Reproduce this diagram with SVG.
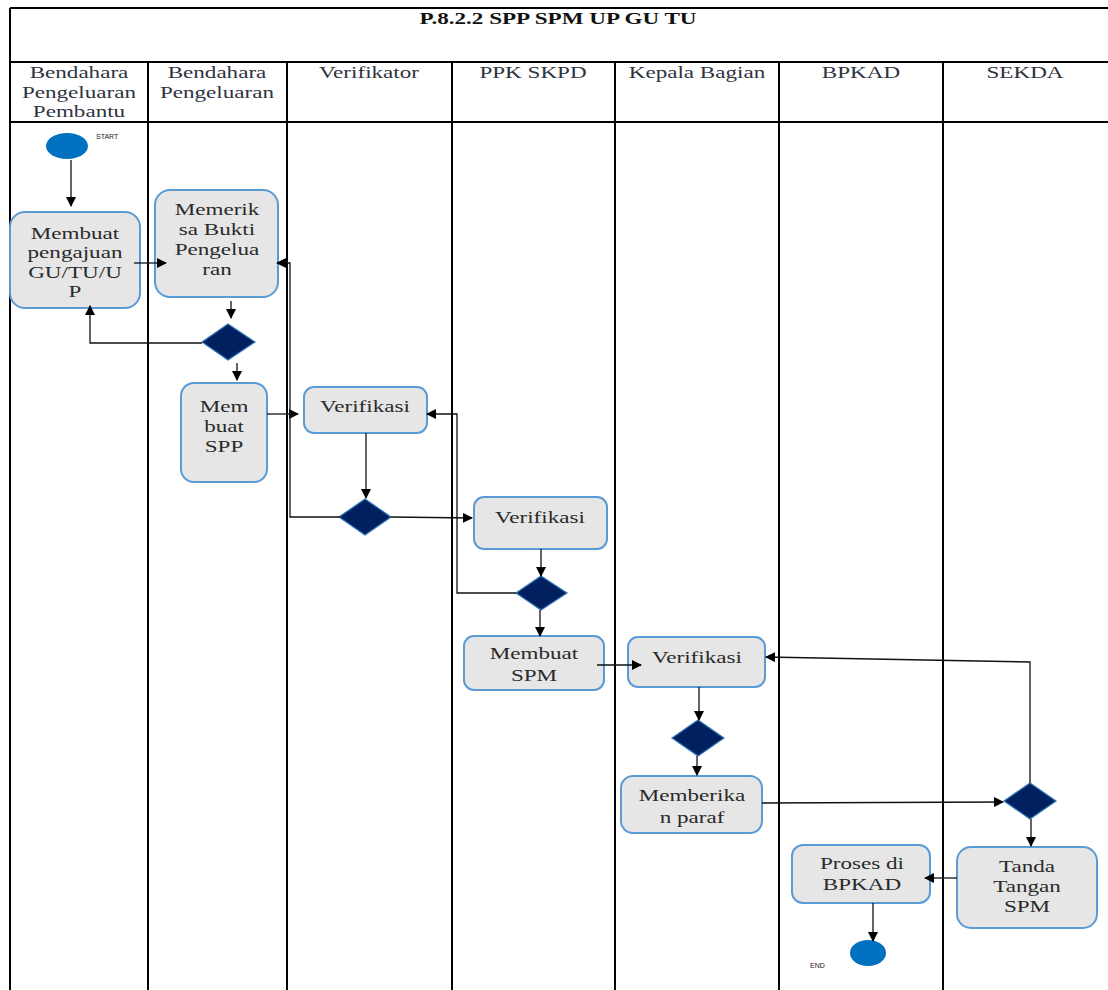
<svg xmlns="http://www.w3.org/2000/svg" width="1108" height="990" viewBox="0 0 1108 990">
<defs>
<marker id="arr" markerWidth="10" markerHeight="10" refX="9" refY="5" orient="auto" markerUnits="userSpaceOnUse">
<path d="M0,0 L10,5 L0,10 Z" fill="#000"/>
</marker>
<style>
.frame{stroke:#000;stroke-width:2;fill:none}
.title{font-family:"Liberation Serif",serif;font-size:16.5px;font-weight:bold;fill:#111;text-anchor:middle}
.lane{font-family:"Liberation Serif",serif;font-size:16.5px;fill:#2e3440;text-anchor:middle}
.box{fill:#e6e6e6;stroke:#5b9bd5;stroke-width:2}
.t{font-family:"Liberation Serif",serif;font-size:16.5px;fill:#2a2a2a;text-anchor:middle}
.dia{fill:#002060;stroke:#2f75b5;stroke-width:1.2}
.term{fill:#0070c0}
.small{font-family:"Liberation Sans",sans-serif;font-size:7px;fill:#222}
.c{stroke:#111;stroke-width:1.3;fill:none}
</style>
</defs>
<rect x="0" y="0" width="1108" height="990" fill="#fff"/>
<g id="frame">
<line class="frame" x1="10" y1="8" x2="1108" y2="8"/>
<line class="frame" x1="10" y1="8" x2="10" y2="990"/>
<line class="frame" x1="10" y1="62" x2="1108" y2="62"/>
<line class="frame" x1="10" y1="122" x2="1108" y2="122"/>
<line class="frame" x1="148" y1="62" x2="148" y2="990"/>
<line class="frame" x1="287" y1="62" x2="287" y2="990"/>
<line class="frame" x1="452" y1="62" x2="452" y2="990"/>
<line class="frame" x1="615" y1="62" x2="615" y2="990"/>
<line class="frame" x1="779" y1="62" x2="779" y2="990"/>
<line class="frame" x1="943" y1="62" x2="943" y2="990"/>
<text class="title" transform="translate(558,24) scale(1.4,1)">P.8.2.2 SPP SPM UP GU TU</text>
<text class="lane" transform="translate(79,78) scale(1.4,1)">Bendahara</text>
<text class="lane" transform="translate(79,98) scale(1.4,1)">Pengeluaran</text>
<text class="lane" transform="translate(79,117) scale(1.4,1)">Pembantu</text>
<text class="lane" transform="translate(217,78) scale(1.4,1)">Bendahara</text>
<text class="lane" transform="translate(217,98) scale(1.4,1)">Pengeluaran</text>
<text class="lane" transform="translate(369,78) scale(1.4,1)">Verifikator</text>
<text class="lane" transform="translate(533,78) scale(1.4,1)">PPK SKPD</text>
<text class="lane" transform="translate(697,78) scale(1.4,1)">Kepala Bagian</text>
<text class="lane" transform="translate(861,78) scale(1.4,1)">BPKAD</text>
<text class="lane" transform="translate(1025,78) scale(1.4,1)">SEKDA</text>
</g>
<g id="start">
<ellipse class="term" cx="67" cy="146" rx="21" ry="13"/>
<text class="small" x="96" y="139">START</text>
</g>
<g id="n-pengajuan">
<rect class="box" x="10" y="212" width="130" height="96" rx="15"/>
<text class="t" transform="translate(75,239) scale(1.4,1)">Membuat</text>
<text class="t" transform="translate(75,258) scale(1.4,1)">pengajuan</text>
<text class="t" transform="translate(75,278) scale(1.4,1)">GU/TU/U</text>
<text class="t" transform="translate(75,297) scale(1.4,1)">P</text>
</g>
<g id="n-memeriksa">
<rect class="box" x="155" y="190" width="123" height="107" rx="15"/>
<text class="t" transform="translate(217,215) scale(1.4,1)">Memerik</text>
<text class="t" transform="translate(217,235) scale(1.4,1)">sa Bukti</text>
<text class="t" transform="translate(217,255) scale(1.4,1)">Pengelua</text>
<text class="t" transform="translate(217,275) scale(1.4,1)">ran</text>
</g>
<g id="d1"><polygon class="dia" points="228,324 255,342 228,360 202,342"/></g>
<g id="n-spp">
<rect class="box" x="181" y="383" width="86" height="99" rx="13"/>
<text class="t" transform="translate(224,412) scale(1.4,1)">Mem</text>
<text class="t" transform="translate(224,432) scale(1.4,1)">buat</text>
<text class="t" transform="translate(224,452) scale(1.4,1)">SPP</text>
</g>
<g id="n-verif1">
<rect class="box" x="304" y="387" width="123" height="46" rx="10"/>
<text class="t" transform="translate(365,412) scale(1.4,1)">Verifikasi</text>
</g>
<g id="d2"><polygon class="dia" points="365,499 391,517 365,535 339,517"/></g>
<g id="n-verif2">
<rect class="box" x="474" y="497" width="133" height="52" rx="10"/>
<text class="t" transform="translate(540,523) scale(1.4,1)">Verifikasi</text>
</g>
<g id="d3"><polygon class="dia" points="541,576 567,593 541,610 516,593"/></g>
<g id="n-spm">
<rect class="box" x="464" y="636" width="140" height="54" rx="10"/>
<text class="t" transform="translate(534,659) scale(1.4,1)">Membuat</text>
<text class="t" transform="translate(534,681) scale(1.4,1)">SPM</text>
</g>
<g id="n-verif3">
<rect class="box" x="628" y="637" width="137" height="50" rx="10"/>
<text class="t" transform="translate(697,663) scale(1.4,1)">Verifikasi</text>
</g>
<g id="d4"><polygon class="dia" points="698,720 724,738 698,756 672,738"/></g>
<g id="n-paraf">
<rect class="box" x="621" y="776" width="141" height="57" rx="12"/>
<text class="t" transform="translate(692,801) scale(1.4,1)">Memberika</text>
<text class="t" transform="translate(692,823) scale(1.4,1)">n paraf</text>
</g>
<g id="d5"><polygon class="dia" points="1030,783 1056,801 1030,819 1004,801"/></g>
<g id="n-tanda">
<rect class="box" x="957" y="847" width="140" height="81" rx="14"/>
<text class="t" transform="translate(1027,872) scale(1.4,1)">Tanda</text>
<text class="t" transform="translate(1027,892) scale(1.4,1)">Tangan</text>
<text class="t" transform="translate(1027,912) scale(1.4,1)">SPM</text>
</g>
<g id="n-proses">
<rect class="box" x="792" y="845" width="138" height="58" rx="11"/>
<text class="t" transform="translate(862,869) scale(1.4,1)">Proses di</text>
<text class="t" transform="translate(862,890) scale(1.4,1)">BPKAD</text>
</g>
<g id="end">
<ellipse class="term" cx="868" cy="953" rx="18" ry="13"/>
<text class="small" x="810" y="968">END</text>
</g>
<g id="connectors">
<line class="c" x1="71" y1="160" x2="71" y2="206" marker-end="url(#arr)"/>
<line class="c" x1="134" y1="263" x2="166" y2="263" marker-end="url(#arr)"/>
<line class="c" x1="231" y1="301" x2="231" y2="318" marker-end="url(#arr)"/>
<polyline class="c" points="202,343 90,343 90,306" marker-end="url(#arr)"/>
<line class="c" x1="237" y1="363" x2="237" y2="380" marker-end="url(#arr)"/>
<line class="c" x1="267" y1="414" x2="298" y2="414" marker-end="url(#arr)"/>
<polyline class="c" points="340,517 290,517 290,263 277,263" marker-end="url(#arr)"/>
<line class="c" x1="366" y1="433" x2="366" y2="498" marker-end="url(#arr)"/>
<line class="c" x1="391" y1="517" x2="472" y2="518" marker-end="url(#arr)"/>
<line class="c" x1="541" y1="549" x2="541" y2="576" marker-end="url(#arr)"/>
<polyline class="c" points="516,593 457,593 457,414 427,414" marker-end="url(#arr)"/>
<line class="c" x1="540" y1="610" x2="540" y2="636" marker-end="url(#arr)"/>
<line class="c" x1="597" y1="665" x2="641" y2="665" marker-end="url(#arr)"/>
<line class="c" x1="699" y1="687" x2="699" y2="720" marker-end="url(#arr)"/>
<line class="c" x1="697" y1="756" x2="697" y2="775" marker-end="url(#arr)"/>
<line class="c" x1="762" y1="803" x2="1003" y2="802" marker-end="url(#arr)"/>
<polyline class="c" points="1030,783 1030,662 766,657" marker-end="url(#arr)"/>
<line class="c" x1="1031" y1="819" x2="1031" y2="846" marker-end="url(#arr)"/>
<line class="c" x1="957" y1="878" x2="925" y2="878" marker-end="url(#arr)"/>
<line class="c" x1="873" y1="903" x2="873" y2="941" marker-end="url(#arr)"/>
</g>
</svg>
